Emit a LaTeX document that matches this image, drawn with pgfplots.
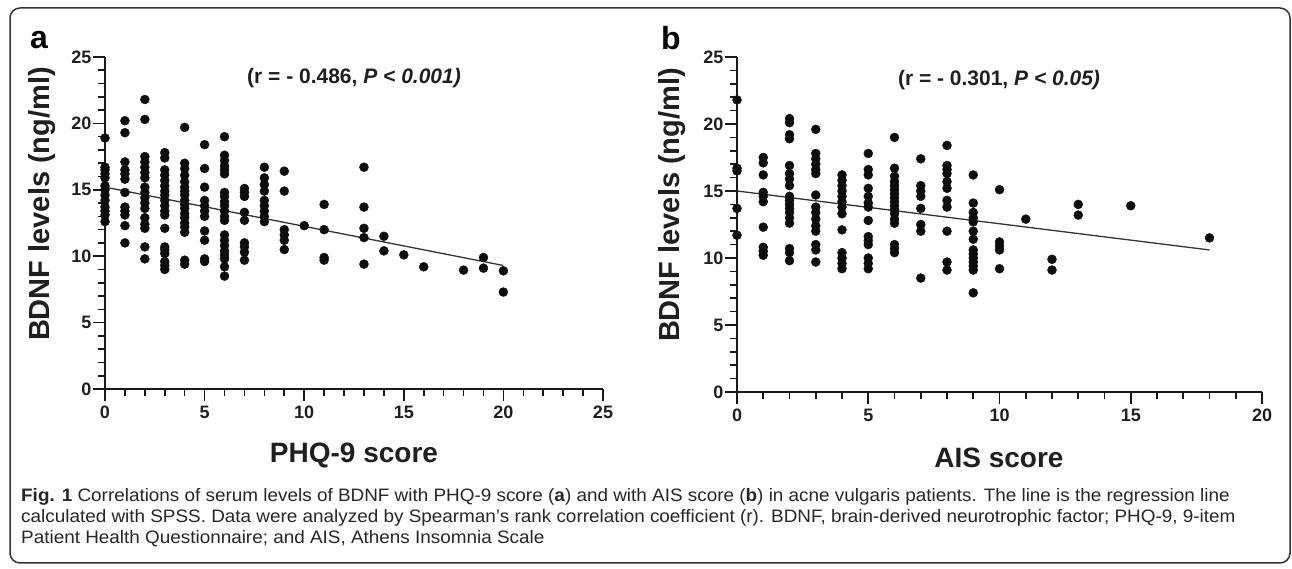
\documentclass[border=0pt]{standalone}
\usepackage{fontspec}
\setmainfont{Liberation Sans}
\newfontfamily\capfont[FakeStretch=1.05]{Liberation Sans}
\usepackage{pgfplots}
\usepackage{pgfplotstable}
\pgfplotsset{compat=1.18}

% panel a: PHQ-9 score vs BDNF
\pgfplotstableread{
x y
0 18.9
0 16.7
0 16.5
0 16.2
0 15.9
0 15.3
0 15.0
0 14.6
0 14.2
0 13.7
0 13.4
0 13.1
0 12.6
1 20.2
1 19.3
1 17.1
1 16.5
1 16.2
1 15.8
1 14.8
1 13.7
1 13.4
1 13.1
1 12.3
1 11.0
2 21.8
2 20.3
2 17.5
2 17.1
2 16.7
2 16.3
2 15.9
2 15.2
2 14.8
2 14.4
2 14.0
2 13.6
2 12.9
2 12.4
2 12.1
2 10.7
2 9.8
3 17.8
3 17.4
3 16.5
3 16.1
3 15.7
3 15.3
3 14.9
3 14.6
3 14.2
3 13.8
3 13.4
3 13.1
3 12.1
3 10.7
3 10.5
3 10.2
3 9.6
3 9.3
3 9.0
4 19.7
4 17.0
4 16.6
4 16.1
4 15.6
4 15.2
4 14.9
4 14.6
4 14.2
4 13.9
4 13.6
4 13.2
4 12.9
4 12.5
4 12.2
4 11.8
4 9.7
4 9.4
5 18.4
5 16.6
5 15.2
5 14.2
5 13.8
5 13.4
5 13.0
5 11.9
5 11.2
5 9.8
5 9.6
6 19.0
6 17.6
6 17.2
6 16.8
6 16.5
6 16.2
6 14.8
6 14.5
6 14.1
6 13.8
6 13.4
6 13.0
6 12.7
6 11.6
6 11.2
6 10.8
6 10.4
6 10.1
6 9.8
6 9.2
6 8.5
7 15.1
7 14.8
7 14.5
7 13.3
7 12.7
7 11.0
7 10.7
7 10.3
7 9.7
8 16.7
8 15.9
8 15.4
8 14.9
8 14.2
8 13.8
8 13.4
8 13.0
8 12.6
9 16.4
9 14.9
9 12.0
9 11.6
9 11.2
9 10.5
10 12.3
11 13.9
11 12.0
11 9.9
11 9.7
13 16.7
13 13.7
13 12.1
13 11.4
13 9.4
14 11.5
14 10.4
15 10.1
16 9.2
18 8.95
19 9.9
19 9.1
20 8.9
20 7.3
}\phqdata

% panel b: AIS score vs BDNF
\pgfplotstableread{
x y
0 21.8
0 16.7
0 16.5
0 13.7
0 11.7
1 17.5
1 17.1
1 16.2
1 14.9
1 14.6
1 14.2
1 12.3
1 10.8
1 10.5
1 10.2
2 20.4
2 20.1
2 19.2
2 18.9
2 16.9
2 16.3
2 15.9
2 15.4
2 14.6
2 14.3
2 14.0
2 13.7
2 13.4
2 13.0
2 12.6
2 10.7
2 10.4
2 9.8
3 19.6
3 17.8
3 17.4
3 17.0
3 16.6
3 16.3
3 14.7
3 13.8
3 13.4
3 12.9
3 12.4
3 12.0
3 11.0
3 10.6
3 9.7
4 16.2
4 15.8
4 15.4
4 15.0
4 14.6
4 14.2
4 13.8
4 13.3
4 12.1
4 10.4
4 10.0
4 9.6
4 9.2
5 17.8
5 16.6
5 16.2
5 15.2
5 14.6
5 14.1
5 13.8
5 12.8
5 11.6
5 11.3
5 11.0
5 10.0
5 9.6
5 9.2
6 19.0
6 16.7
6 16.1
6 15.7
6 15.4
6 15.1
6 14.8
6 14.5
6 14.2
6 13.9
6 13.6
6 13.3
6 12.9
6 12.6
6 11.0
6 10.7
6 10.4
7 17.4
7 15.4
7 15.0
7 14.6
7 13.7
7 12.5
7 12.0
7 8.5
8 18.4
8 16.9
8 16.6
8 16.3
8 15.7
8 15.2
8 14.3
8 13.8
8 12.0
8 9.7
8 9.1
9 16.2
9 14.1
9 13.4
9 13.0
9 12.7
9 12.0
9 11.4
9 10.6
9 10.3
9 10.0
9 9.7
9 9.4
9 9.1
9 7.4
10 15.1
10 11.2
10 10.9
10 10.6
10 9.2
11 12.9
12 9.9
12 9.1
13 14.0
13 13.2
15 13.9
18 11.5
}\aisdata

\pgfplotsset{
  gp/.style={
    scale only axis, anchor=south west,
    axis lines=left, axis line style={-, line width=1.6pt, black!90},
    enlargelimits=false, clip=false,
    ymin=0, ymax=25, ytick={0,5,...,25},
    minor x tick num=4, minor y tick num=4,
    tick align=outside,
    major tick length=12pt, minor tick length=7pt,
    every tick/.append style={line width=1.6pt, black!90},
    tick label style={font=\fontsize{18}{18}\selectfont\bfseries, text=black!88},
    yticklabel style={inner xsep=1.5pt},
    xticklabel style={inner ysep=5pt},
    /pgf/number format/assume math mode=true,
  },
  dots/.style={only marks, mark=*, mark size=4.5pt, black!95},
  fit/.style={no marks, line width=1.3pt, black!80},
}

\begin{document}
\begin{tikzpicture}[x=1pt, y=1pt]
\useasboundingbox (0,0) rectangle (1292,569);
\draw[rounded corners=10pt, line width=1.5pt, black!80] (10,6) rectangle (1290,561);

\begin{axis}[gp, at={(105pt,180pt)}, width=498pt, height=332pt,
  xmin=0, xmax=25, xtick={0,5,...,25}]
\addplot[dots] table[x=x, y=y] {\phqdata};
\addplot[fit] coordinates {(0,15.2) (20,9.3)};
\end{axis}

\begin{axis}[gp, at={(737pt,177pt)}, width=525pt, height=335pt,
  xmin=0, xmax=20, xtick={0,5,...,20}]
\addplot[dots] table[x=x, y=y] {\aisdata};
\addplot[fit] coordinates {(0,15.0) (18,10.6)};
\end{axis}

% panel letters
\node[font=\fontsize{32}{32}\selectfont\bfseries] at (39,529) {a};
\node[font=\fontsize{32}{32}\selectfont\bfseries] at (671,531) {b};

% axis titles
\node[rotate=90, font=\fontsize{29}{29}\selectfont\bfseries, text=black!88] at (42,365) {BDNF levels (ng/ml)};
\node[rotate=90, font=\fontsize{29}{29}\selectfont\bfseries, text=black!88] at (672,364) {BDNF levels (ng/ml)};
\node[font=\fontsize{28}{28}\selectfont\bfseries, text=black!88] at (354,114) {PHQ-9 score};
\node[font=\fontsize{28}{28}\selectfont\bfseries, text=black!88] at (999,111) {AIS score};

% correlation notes
\node[font=\fontsize{21}{21}\selectfont\bfseries, text=black!88] at (354,491) {(r = - 0.486, \textit{P < 0.001)}};
\node[font=\fontsize{21}{21}\selectfont\bfseries, text=black!88] at (999,489) {(r = - 0.301, \textit{P < 0.05)}};

% caption
\begin{scope}[every node/.style={anchor=base west, inner sep=0pt, font=\capfont\fontsize{18}{20}\selectfont, text=black!85}]
\node at (21,67) {\textbf{Fig. 1} Correlations of serum levels of BDNF with PHQ-9 score (\textbf{a}) and with AIS score (\textbf{b}) in acne vulgaris patients. The line is the regression line};
\node at (21,46) {calculated with SPSS. Data were analyzed by Spearman’s rank correlation coefficient (r). BDNF, brain-derived neurotrophic factor; PHQ-9, 9-item};
\node at (21,25) {Patient Health Questionnaire; and AIS, Athens Insomnia Scale};
\end{scope}
\end{tikzpicture}
\end{document}
